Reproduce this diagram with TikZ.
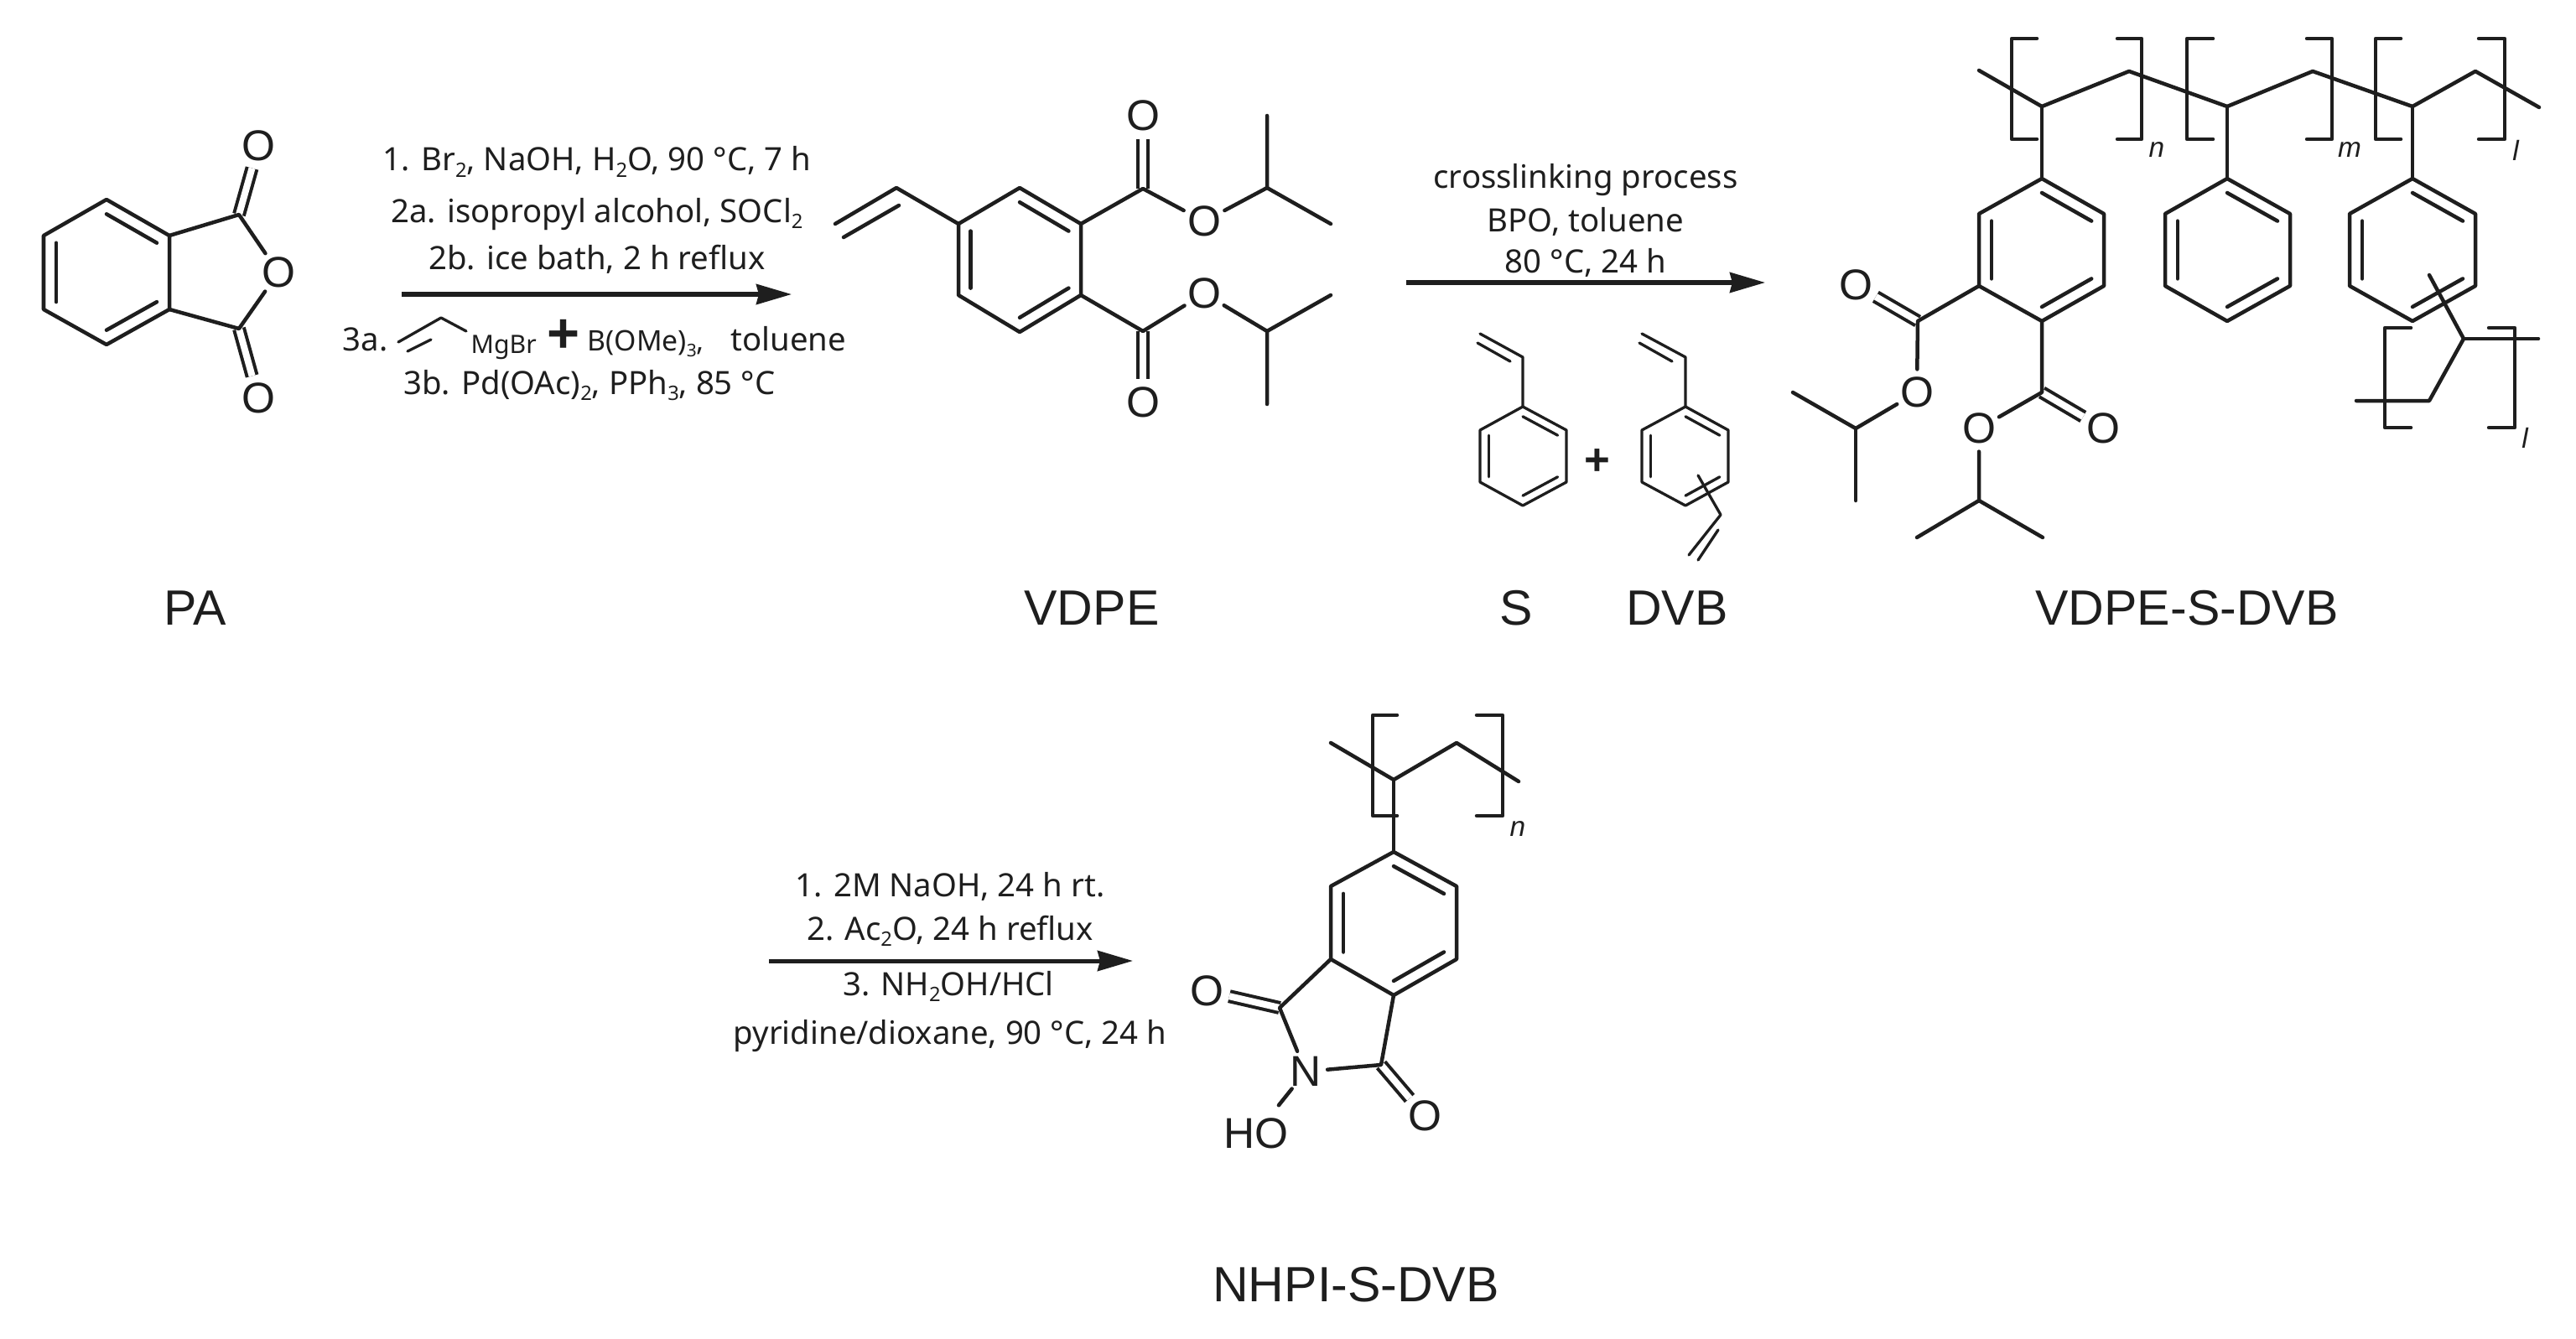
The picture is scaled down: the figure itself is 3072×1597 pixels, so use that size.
\documentclass[tikz,border=0pt]{standalone}
\usepackage{fontspec}
\setmainfont{Liberation Sans}
\newfontfamily\rxfont{Noto Sans}
\usetikzlibrary{calc,arrows.meta}
\definecolor{ink}{HTML}{1E1E1E}
\newcommand{\lowr}[1]{\raisebox{-0.35ex}{\scalebox{0.62}{#1}}}
\tikzset{
  bond/.style={draw=ink,line width=0.045cm,line join=round,line cap=round},
  thinbond/.style={draw=ink,line width=0.033cm,line join=round,line cap=round},
  dblbond/.style={draw=ink,double,double distance=0.08cm,line width=0.04cm},
  atom/.style={circle,inner sep=0pt,text=ink,font=\fontsize{14.6pt}{16pt}\selectfont},
  rxtext/.style={anchor=base,inner sep=0,text=ink,font=\rxfont\fontsize{10.9pt}{13pt}\selectfont},
  rxleft/.style={rxtext,anchor=base west},
  cmpd/.style={anchor=base,inner sep=0,text=ink,font=\fontsize{16.8pt}{20pt}\selectfont},
  idx/.style={inner sep=0,text=ink,font=\fontsize{9.5pt}{11pt}\selectfont\itshape},
  plussign/.style={inner sep=0,text=ink,font=\fontsize{15pt}{16pt}\selectfont\bfseries},
  smalltext/.style={rxleft,font=\rxfont\fontsize{8.6pt}{10pt}\selectfont},
  rxarrow/.style={draw=ink,line width=0.05cm,-{Stealth[length=0.42cm,width=0.24cm,inset=0.03cm]}}
}
% #1 prefix, #2 style, #3 xl, #4 xc, #5 xr, #6 y1, #7 y2, #8 y3, #9 y4
\newcommand{\hexring}[9]{%
  \coordinate (#1a) at (#4,#6);
  \coordinate (#1b) at (#5,#7);
  \coordinate (#1c) at (#5,#8);
  \coordinate (#1d) at (#4,#9);
  \coordinate (#1e) at (#3,#8);
  \coordinate (#1f) at (#3,#7);
  \coordinate (#1o) at ($(#1a)!.5!(#1d)$);
  \draw[#2] (#1a)--(#1b)--(#1c)--(#1d)--(#1e)--(#1f)--cycle;
  \draw[#2] ($(#1a)!.2!(#1o)$)--($(#1b)!.2!(#1o)$);
  \draw[#2] ($(#1c)!.2!(#1o)$)--($(#1d)!.2!(#1o)$);
  \draw[#2] ($(#1e)!.2!(#1o)$)--($(#1f)!.2!(#1o)$);
}
\begin{document}
\begin{tikzpicture}[x=0.01cm,y=-0.01cm]
\useasboundingbox (0,0) rectangle (3072,1597);

% ---------- PA
\coordinate (paC1) at (285,256);
\coordinate (paC2) at (285,392);
\node[atom] (paO1) at (308,174) {O};
\node[atom] (paO2) at (332,325) {O};
\node[atom] (paO3) at (308,475) {O};
\draw[dblbond] (paC1)--(paO1);
\draw[dblbond] (paC2)--(paO3);
\hexring{pa}{bond}{52}{127}{202}{238}{281}{369}{411}
\draw[bond] (pab)--(paC1)--(paO2)--(paC2)--(pac);
\node[cmpd] (paLabel) at (233,745) {PA};

% ---------- reaction 1
\coordinate (r1s) at (479,351);
\coordinate (r1e) at (944,351);
\draw[rxarrow] (r1s)--(r1e);
\node[rxtext] (r1a) at (712,204) {1. Br\lowr{2}, NaOH, H\lowr{2}O, 90 °C, 7 h};
\node[rxtext] (r1b) at (712,265) {2a. isopropyl alcohol, SOCl\lowr{2}};
\node[rxtext] (r1c) at (712,321) {2b. ice bath, 2 h reflux};
\node[rxleft] (r1d) at (408,419) {3a.};
\coordinate (mgA) at (475,408);
\coordinate (mgB) at (526,379);
\coordinate (mgC) at (556,395);
\coordinate (mgD) at (486,419);
\coordinate (mgE) at (514,405);
\draw[thinbond] (mgA)--(mgB)--(mgC);
\draw[thinbond] (mgD)--(mgE);
\node[smalltext] (r1mg) at (561,421) {MgBr};
\node[plussign,font=\fontsize{19pt}{20pt}\selectfont\bfseries] (r1plus) at (672,401) {+};
\node[smalltext,font=\rxfont\fontsize{9.6pt}{11pt}\selectfont] (r1b3) at (700,419) {B(OMe)\lowr{3},};
\node[rxleft] (r1tol) at (871,419) {toluene};
\node[rxtext] (r1e2) at (703,470) {3b. Pd(OAc)\lowr{2}, PPh\lowr{3}, 85 °C};

% ---------- VDPE
\coordinate (vC1) at (1363,225);
\coordinate (vC2) at (1363,395);
\node[atom] (vO1) at (1363,138) {O};
\node[atom] (vO2) at (1436,264) {O};
\node[atom] (vO3) at (1363,480) {O};
\node[atom] (vO4) at (1436,350) {O};
\draw[dblbond] (vC1)--(vO1);
\draw[dblbond] (vC2)--(vO3);
\hexring{v}{bond}{1143}{1216}{1289}{224}{267}{352}{396}
\coordinate (vV1) at (1069,224);
\coordinate (vV2) at (996,267);
\coordinate (vV3) at (1006,283);
\coordinate (vV4) at (1072,245);
\draw[bond] (vf)--(vV1)--(vV2);
\draw[bond] (vV3)--(vV4);
\draw[bond] (vb)--(vC1)--(vO2);
\draw[bond] (vc)--(vC2)--(vO4);
\coordinate (vP1) at (1511,224);
\coordinate (vP2) at (1511,138);
\coordinate (vP3) at (1587,267);
\coordinate (vQ1) at (1511,395);
\coordinate (vQ2) at (1511,482);
\coordinate (vQ3) at (1587,352);
\draw[bond] (vO2)--(vP1)--(vP2);
\draw[bond] (vP1)--(vP3);
\draw[bond] (vO4)--(vQ1)--(vQ2);
\draw[bond] (vQ1)--(vQ3);
\node[cmpd] (vLabel) at (1302,745) {VDPE};

% ---------- reaction 2
\coordinate (r2s) at (1677,337);
\coordinate (r2e) at (2105,337);
\draw[rxarrow] (r2s)--(r2e);
\node[rxtext] (r2a) at (1891,225) {crosslinking process};
\node[rxtext] (r2b) at (1891,277) {BPO, toluene};
\node[rxtext] (r2c) at (1891,326) {80 °C, 24 h};

% ---------- S
\hexring{s}{thinbond}{1765}{1816}{1868}{485}{513}{575}{603}
\coordinate (sV1) at (1816,426);
\coordinate (sV2) at (1765,398);
\coordinate (sV3) at (1762,409);
\coordinate (sV4) at (1801,431);
\draw[thinbond] (sa)--(sV1)--(sV2);
\draw[thinbond] (sV3)--(sV4);
\node[plussign] (plus) at (1905,551) {+};
\node[cmpd] (sLabel) at (1808,745) {S};

% ---------- DVB
\hexring{d}{thinbond}{1958}{2010}{2061}{485}{513}{575}{603}
\coordinate (dV1) at (2010,426);
\coordinate (dV2) at (1958,398);
\coordinate (dV3) at (1955,409);
\coordinate (dV4) at (1994,431);
\draw[thinbond] (da)--(dV1)--(dV2);
\draw[thinbond] (dV3)--(dV4);
\coordinate (dW0) at (2025,567);
\coordinate (dW1) at (2052,614);
\coordinate (dW2) at (2014,662);
\coordinate (dW3) at (2049,632);
\coordinate (dW4) at (2025,668);
\draw[thinbond] (dW0)--(dW1)--(dW2);
\draw[thinbond] (dW3)--(dW4);
\node[cmpd] (dLabel) at (2000,745) {DVB};

% ---------- VDPE-S-DVB backbone
\coordinate (b0) at (2360,84);
\coordinate (b1) at (2435,127);
\coordinate (b2) at (2539,85);
\coordinate (b3) at (2656,127);
\coordinate (b4) at (2758,85);
\coordinate (b5) at (2877,127);
\coordinate (b6) at (2952,85);
\coordinate (b7) at (3028,128);
\draw[bond] (b0)--(b1)--(b2)--(b3)--(b4)--(b5)--(b6)--(b7);
\draw[bond] (2429,46)--(2399,46)--(2399,166)--(2429,166);
\draw[bond] (2525,46)--(2554,46)--(2554,166)--(2525,166);
\draw[bond] (2639,46)--(2608,46)--(2608,166)--(2639,166);
\draw[bond] (2751,46)--(2781,46)--(2781,166)--(2751,166);
\draw[bond] (2863,46)--(2833,46)--(2833,166)--(2863,166);
\draw[bond] (2956,46)--(2987,46)--(2987,166)--(2956,166);
\node[idx] (bn) at (2572,179) {n};
\node[idx] (bm) at (2802,179) {m};
\node[idx] (bl) at (3000,179) {l};

% ring 1 with esters
\coordinate (eC1) at (2287,383);
\coordinate (eC2) at (2435,468);
\node[atom] (eO1) at (2213,340) {O};
\node[atom] (eO2) at (2286,468) {O};
\node[atom] (eO3) at (2508,511) {O};
\node[atom] (eO4) at (2360,511) {O};
\draw[dblbond] (eC1)--(eO1);
\draw[dblbond] (eC2)--(eO3);
\hexring{p}{bond}{2360}{2435}{2509}{213}{255}{341}{383}
\draw[bond] (b1)--(pa);
\draw[bond] (pe)--(eC1)--(eO2);
\draw[bond] (pd)--(eC2)--(eO4);
\coordinate (eP1) at (2213,511);
\coordinate (eP2) at (2138,468);
\coordinate (eP3) at (2213,597);
\coordinate (eQ1) at (2360,597);
\coordinate (eQ2) at (2286,641);
\coordinate (eQ3) at (2436,641);
\draw[bond] (eO2)--(eP1)--(eP2);
\draw[bond] (eP1)--(eP3);
\draw[bond] (eO4)--(eQ1)--(eQ2);
\draw[bond] (eQ1)--(eQ3);

% ring 2
\hexring{q}{bond}{2582}{2656}{2731}{213}{255}{341}{383}
\draw[bond] (b3)--(qa);

% ring 3 and cross-link
\hexring{u}{bond}{2802}{2877}{2952}{213}{255}{341}{383}
\draw[bond] (b5)--(ua);
\coordinate (x0) at (2897,328);
\coordinate (x1) at (2938,404);
\coordinate (x2) at (2897,478);
\coordinate (x3) at (2810,478);
\coordinate (x4) at (3027,404);
\draw[bond] (x0)--(x1)--(x2)--(x3);
\draw[bond] (x1)--(x4);
\draw[bond] (2875,391)--(2844,391)--(2844,510)--(2875,510);
\draw[bond] (2968,391)--(2999,391)--(2999,510)--(2968,510);
\node[idx] (bl2) at (3011,522) {l};
\node[cmpd] (pLabel) at (2608,745) {VDPE-S-DVB};

% ---------- reaction 3
\coordinate (r3s) at (917,1146);
\coordinate (r3e) at (1351,1146);
\draw[rxarrow] (r3s)--(r3e);
\node[rxtext] (r3a) at (1133,1069) {1. 2M NaOH, 24 h rt.};
\node[rxtext] (r3b) at (1133,1121) {2. Ac\lowr{2}O, 24 h reflux};
\node[rxtext] (r3c) at (1131,1187) {3. NH\lowr{2}OH/HCl};
\node[rxtext] (r3d) at (1133,1245) {pyridine/dioxane, 90 °C, 24 h};

% ---------- NHPI
\coordinate (nb0) at (1587,886);
\coordinate (nb1) at (1662,930);
\coordinate (nb2) at (1737,886);
\coordinate (nb3) at (1811,932);
\draw[bond] (nb0)--(nb1)--(nb2)--(nb3);
\draw[bond] (1666,853)--(1637,853)--(1637,973)--(1666,973);
\draw[bond] (1761,853)--(1792,853)--(1792,973)--(1761,973);
\node[idx] (nn) at (1810,989) {n};
\coordinate (nC1) at (1526,1202);
\coordinate (nC2) at (1647,1270);
\node[atom] (nO1) at (1439,1182) {O};
\node[atom] (nO2) at (1699,1331) {O};
\node[atom] (nN) at (1557,1278) {N};
\node[atom] (nHO) at (1498,1352) {HO};
\draw[dblbond] (nC1)--(nO1);
\draw[dblbond] (nC2)--(nO2);
\hexring{n}{bond}{1587}{1662}{1737}{1016}{1057}{1144}{1187}
\draw[bond] (nb1)--(na);
\draw[bond] (ne)--(nC1)--(nN)--(nC2)--(nd);
\draw[bond] (nN)--(nHO);
\node[cmpd] (nLabel) at (1617,1552) {NHPI-S-DVB};
\end{tikzpicture}
\end{document}
